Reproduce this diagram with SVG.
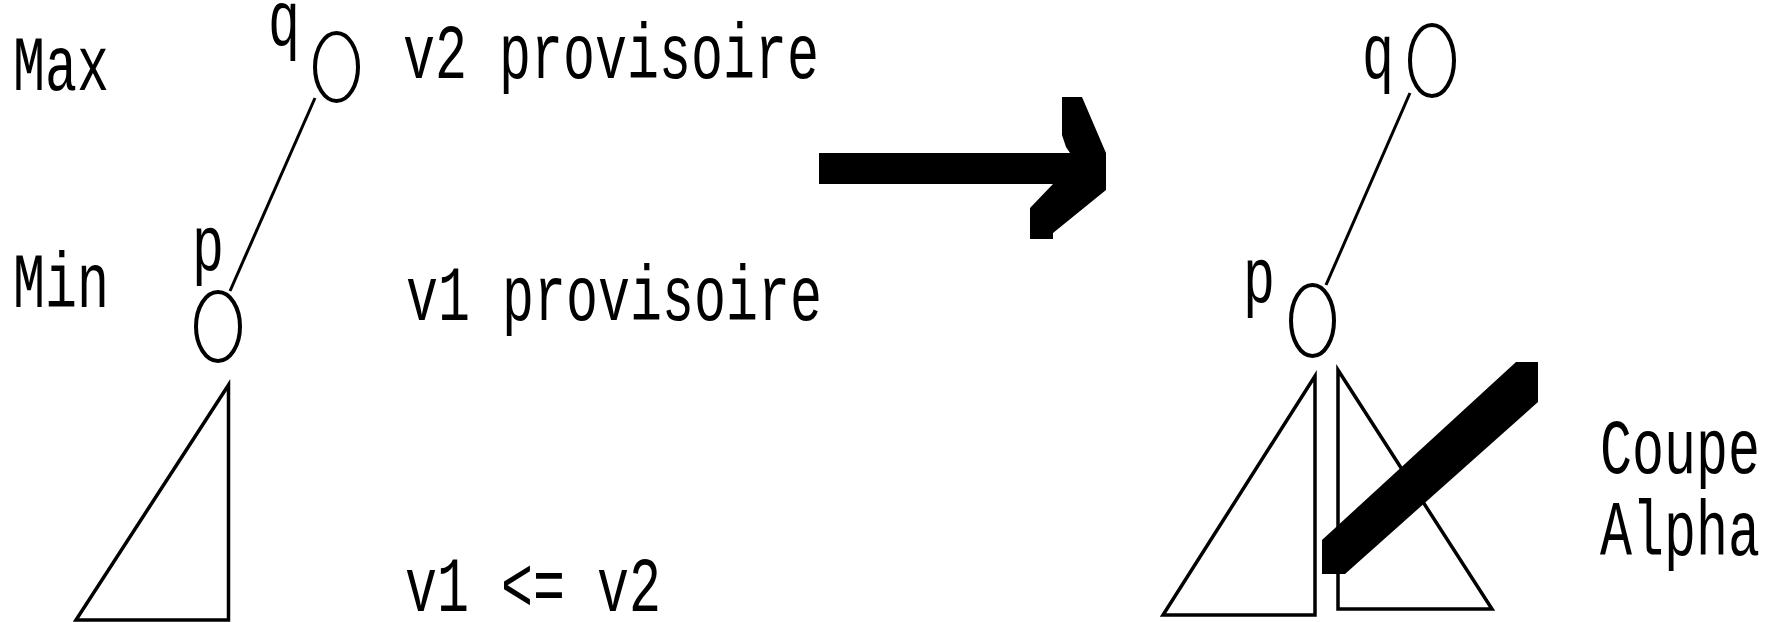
<svg xmlns="http://www.w3.org/2000/svg" width="1777" height="622" viewBox="0 0 1777 622">
<style>
text { font-family: "Liberation Mono", "DejaVu Sans Mono", monospace; font-size: 78px; fill: #000; }
.node { fill: none; stroke: #000; stroke-width: 4; }
.edge { fill: none; stroke: #000; stroke-width: 3; }
.tree { fill: none; stroke: #000; stroke-width: 3.5; stroke-linejoin: miter; }
.solid { fill: #000; stroke: none; }
</style>
<rect width="1777" height="622" fill="#fff"/>
<g id="labels-left">
<text x="13" y="90" textLength="96" lengthAdjust="spacingAndGlyphs">Max</text>
<text x="13" y="307" textLength="96" lengthAdjust="spacingAndGlyphs">Min</text>
<text x="403" y="78" textLength="416" lengthAdjust="spacingAndGlyphs">v2 provisoire</text>
<text x="406" y="320" textLength="416" lengthAdjust="spacingAndGlyphs">v1 provisoire</text>
<text x="405" y="611" textLength="256" lengthAdjust="spacingAndGlyphs">v1 &lt;= v2</text>
</g>
<g id="connectors">
<line class="edge" x1="315" y1="98" x2="230" y2="291"/>
<line class="edge" x1="1410" y1="93" x2="1326" y2="285"/>
</g>
<g id="node-q-left">
<ellipse class="node" cx="336.5" cy="67" rx="21.5" ry="34"/>
<text x="268" y="45" textLength="32" lengthAdjust="spacingAndGlyphs">q</text>
</g>
<g id="node-p-left">
<ellipse class="node" cx="218" cy="326.5" rx="22" ry="34.5"/>
<text x="192" y="270" textLength="32" lengthAdjust="spacingAndGlyphs">p</text>
</g>
<g id="subtree-left">
<polygon class="tree" points="228.5,385 228.5,620 76,620"/>
</g>
<g id="arrow">
<polygon class="solid" points="819,153 1070,153 1066,147 1062,135 1062,97 1082,97 1106,153 1106,190 1053,233 1053,239 1030,239 1030,208 1053,184 819,184"/>
</g>
<g id="node-q-right">
<ellipse class="node" cx="1432" cy="60.5" rx="22" ry="35.5"/>
<text x="1362" y="78" textLength="32" lengthAdjust="spacingAndGlyphs">q</text>
</g>
<g id="node-p-right">
<ellipse class="node" cx="1312.5" cy="320.5" rx="21.5" ry="35.5"/>
<text x="1243" y="302" textLength="32" lengthAdjust="spacingAndGlyphs">p</text>
</g>
<g id="subtree-right-1">
<polygon class="tree" points="1315,376 1315,615 1163,615"/>
</g>
<g id="subtree-right-2">
<polygon class="tree" points="1338,370 1338,609 1492,609"/>
</g>
<g id="cut">
<polygon class="solid" points="1322,540 1516,362 1538,362 1538,402 1345,574 1322,574"/>
</g>
<g id="label-cut">
<text x="1600" y="473" textLength="160" lengthAdjust="spacingAndGlyphs">Coupe</text>
<text x="1600" y="555" textLength="160" lengthAdjust="spacingAndGlyphs">Alpha</text>
</g>
</svg>
